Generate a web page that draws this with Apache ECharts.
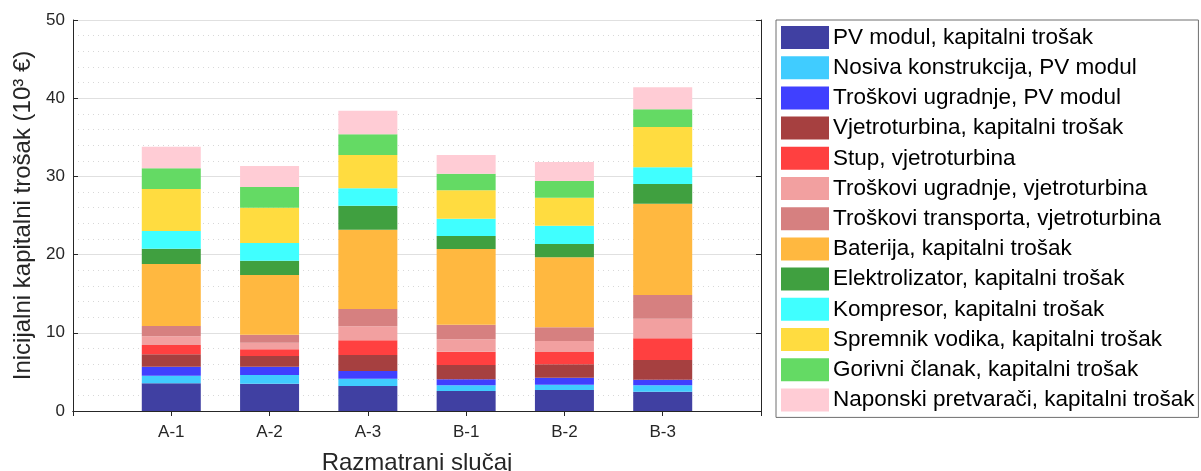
<!DOCTYPE html>
<html>
<head>
<meta charset="utf-8">
<script src="https://cdn.jsdelivr.net/npm/echarts@6/dist/echarts.min.js"></script>
<style>
  html, body { margin: 0; padding: 0; background: #fff; }
  #chart { width: 1201px; height: 471px; }
</style>
</head>
<body>
<div id="chart"></div>
<script>
// kategorije (slučajevi)
const categories = ['A-1', 'A-2', 'A-3', 'B-1', 'B-2', 'B-3']

// nazivi komponenti, redom od dna stupca prema vrhu
const seriesNames = [
  'PV modul, kapitalni trošak',
  'Nosiva konstrukcija, PV modul',
  'Troškovi ugradnje, PV modul',
  'Vjetroturbina, kapitalni trošak',
  'Stup, vjetroturbina',
  'Troškovi ugradnje, vjetroturbina',
  'Troškovi transporta, vjetroturbina',
  'Baterija, kapitalni trošak',
  'Elektrolizator, kapitalni trošak',
  'Kompresor, kapitalni trošak',
  'Spremnik vodika, kapitalni trošak',
  'Gorivni članak, kapitalni trošak',
  'Naponski pretvarači, kapitalni trošak'
]

// vrijednosti (10^3 €) po komponenti, redom A-1 .. B-3
const pvModul       = [3.54, 3.50, 3.20, 2.56, 2.69, 2.47]
const nosiva        = [0.98, 1.10, 0.93, 0.72, 0.68, 0.81]
const ugradnjaPv    = [1.15, 1.07, 0.98, 0.77, 0.89, 0.73]
const vjetroturbina = [1.58, 1.36, 2.05, 1.83, 1.71, 2.51]
const stup          = [1.19, 0.86, 1.88, 1.71, 1.57, 2.77]
const ugradnjaVt    = [1.11, 0.85, 1.79, 1.58, 1.41, 2.51]
const transportVt   = [1.32, 1.02, 2.21, 1.87, 1.75, 3.03]
const baterija      = [7.93, 7.63, 10.15, 9.68, 8.95, 11.68]
const elektrolizator = [1.96, 1.83, 3.07, 1.66, 1.71, 2.52]
const kompresor     = [2.26, 2.26, 2.22, 2.22, 2.34, 2.13]
const spremnik      = [5.37, 4.52, 4.26, 3.62, 3.58, 5.16]
const gorivni       = [2.64, 2.64, 2.64, 2.13, 2.13, 2.26]
const pretvaraci    = [2.77, 2.69, 3.02, 2.39, 2.43, 2.81]

const seriesData = [
  pvModul, nosiva, ugradnjaPv, vjetroturbina, stup, ugradnjaVt, transportVt,
  baterija, elektrolizator, kompresor, spremnik, gorivni, pretvaraci
]

// tick oznake y osi
const yTicks = [0, 10, 20, 30, 40, 50]

const colors = [
  '#4040a2', '#40ccff', '#4040ff', '#a64040', '#ff4040', '#f2a0a0', '#d68080',
  '#ffb840', '#40a040', '#40ffff', '#ffdc40', '#64da64', '#ffccd5'
]

const fontFamily = '"Liberation Sans", Arial, Helvetica, sans-serif'
const axisColor = '#262626'

const chart = echarts.init(document.getElementById('chart'))

// os 0..7 kao u MATLAB-u: prazne kategorije na rubovima
const xData = [''].concat(categories, [''])

const series = seriesData.map((vals, i) => ({
  name: seriesNames[i],
  type: 'bar',
  stack: 'ukupno',
  barWidth: 59,
  itemStyle: { color: colors[i] },
  data: ['-'].concat(vals, ['-'])
}))

const option = {
  animation: false,
  textStyle: { fontFamily },
  color: colors,
  grid: {
    left: 73,
    right: 440,
    top: 20,
    bottom: 60,
    containLabel: false,
    outerBoundsMode: 'none'
  },
  legend: {
    orient: 'vertical',
    left: 776,
    top: 20,
    padding: [6, 4, 6, 5],
    itemWidth: 48,
    itemHeight: 23,
    itemGap: 7.2,
    borderColor: '#6e6e6e',
    borderWidth: 1,
    icon: 'rect',
    selectedMode: false,
    textStyle: { fontSize: 22.5, color: '#000', fontFamily, padding: [0, 0, 0, -1] },
    data: seriesNames
  },
  xAxis: [
    {
      type: 'category',
      data: xData,
      boundaryGap: false,
      name: 'Razmatrani slučaj',
      nameLocation: 'middle',
      nameGap: 40,
      nameTextStyle: { fontSize: 24, color: axisColor },
      axisLine: { lineStyle: { color: axisColor, width: 1 } },
      axisTick: { inside: true, length: 5, lineStyle: { color: axisColor } },
      axisLabel: { fontSize: 17, color: axisColor, margin: 13 },
      splitLine: { show: false }
    },
    {
      type: 'category',
      data: xData,
      boundaryGap: false,
      position: 'top',
      axisLine: { lineStyle: { color: axisColor, width: 1 } },
      axisTick: { inside: true, length: 5, lineStyle: { color: axisColor } },
      axisLabel: { show: false },
      splitLine: { show: false }
    }
  ],
  yAxis: [
    {
      type: 'value',
      min: yTicks[0],
      max: yTicks[yTicks.length - 1],
      interval: 10,
      name: 'Inicijalni kapitalni trošak (10³ €)',
      nameLocation: 'middle',
      nameGap: 36,
      nameTextStyle: { fontSize: 24, color: axisColor },
      axisLine: { show: true, lineStyle: { color: axisColor, width: 1 } },
      axisTick: { show: true, inside: true, length: 5, lineStyle: { color: axisColor } },
      axisLabel: { fontSize: 17, color: axisColor, margin: 8 },
      splitLine: { show: true, lineStyle: { color: '#e0e0e0', width: 1 } },
      minorTick: { show: false, splitNumber: 5 },
      minorSplitLine: { show: true, lineStyle: { color: '#d8d8d8', type: [1, 4], width: 1 } }
    },
    {
      type: 'value',
      min: yTicks[0],
      max: yTicks[yTicks.length - 1],
      interval: 10,
      position: 'right',
      axisLine: { show: true, lineStyle: { color: axisColor, width: 1 } },
      axisTick: { show: true, inside: true, length: 5, lineStyle: { color: axisColor } },
      axisLabel: { show: false },
      splitLine: { show: false }
    }
  ],
  series
}

chart.setOption(option)
</script>
</body>
</html>
